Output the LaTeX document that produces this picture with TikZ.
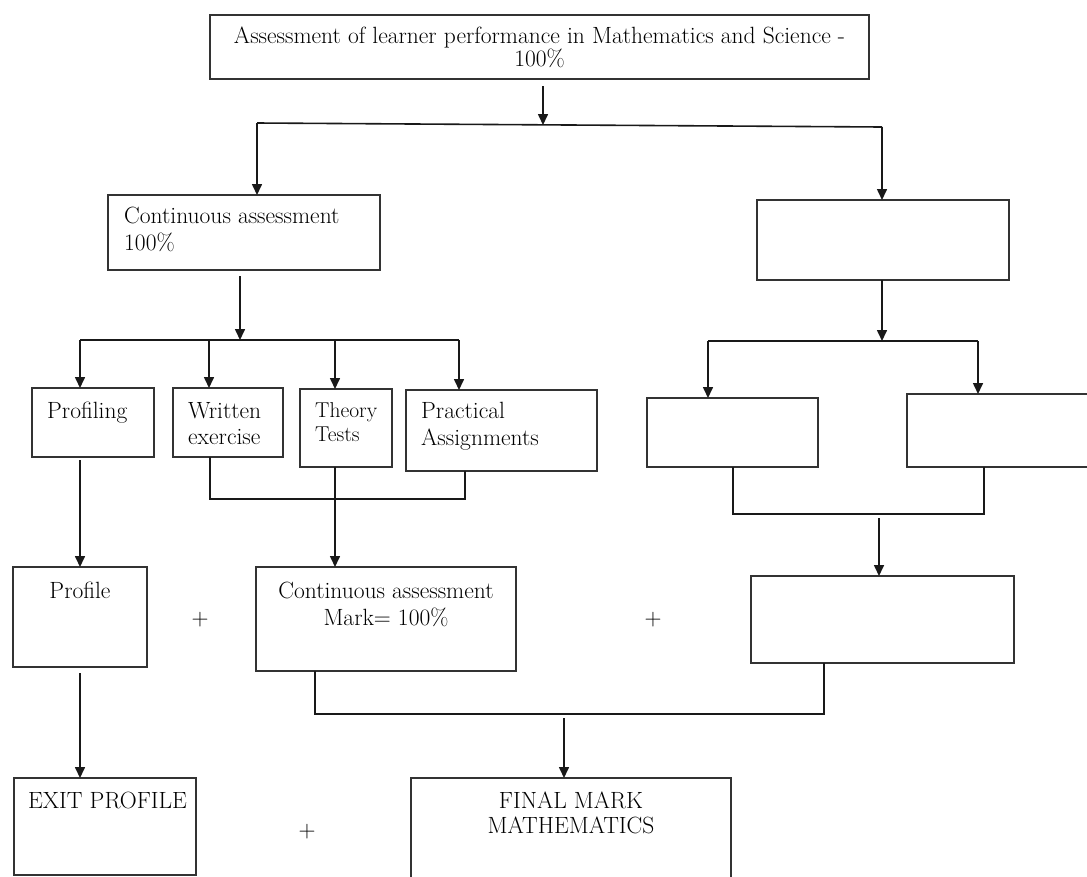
\documentclass[tikz,border=0pt]{standalone}
\usepackage{tikz}
\usetikzlibrary{arrows.meta}

\tikzset{
  box/.style={draw=black!80, line width=1.3pt, anchor=north west, inner sep=0pt, outer sep=0pt},
  txt/.style={anchor=north west, inner sep=0pt, align=left},
  ctxt/.style={anchor=north, inner sep=0pt, align=center},
  link/.style={line width=1.6pt, black!90},
  arr/.style={link, -{Triangle[width=10pt,length=11pt]}}
}

\begin{document}
\begin{tikzpicture}[x=1pt, y=-1pt, font=\fontsize{23.5}{27}\selectfont]
  \useasboundingbox (0,0) rectangle (1087,876);
  \fill[white] (0,0) rectangle (1087,876);
  \clip (0,0) rectangle (1087,876);

  % boxes
  \node[box, minimum width=659, minimum height=64] (top) at (210,15) {};
  \node[box, minimum width=272, minimum height=75] (ca) at (108,195) {};
  \node[box, minimum width=252, minimum height=80] (right1) at (757,200) {};
  \node[box, minimum width=122, minimum height=69] (profiling) at (32,388) {};
  \node[box, minimum width=110, minimum height=69] (written) at (173,388) {};
  \node[box, minimum width=92, minimum height=78] (theory) at (300,389) {};
  \node[box, minimum width=191, minimum height=81] (practical) at (406,390) {};
  \node[box, minimum width=171, minimum height=69] (sub1) at (647,398) {};
  \node[box, minimum width=200, minimum height=73] (sub2) at (907,394) {};
  \node[box, minimum width=134, minimum height=100] (profile) at (13,567) {};
  \node[box, minimum width=260, minimum height=104] (camark) at (256,567) {};
  \node[box, minimum width=263, minimum height=87] (right2) at (751,576) {};
  \node[box, minimum width=182, minimum height=97] (exit) at (14,778) {};
  \node[box, minimum width=320, minimum height=110] (final) at (411,778) {};

  % texts
  \node[ctxt] (toptxt) at ([yshift=-12pt]top.north) {Assessment of learner performance in Mathematics and Science -\\[-4pt] 100\%};
  \node[txt] (catxt) at (124,207) {Continuous assessment\\ 100\%};
  \node[txt] (profilingtxt) at (47,402) {Profiling};
  \node[txt] (writtentxt) at (188,402) {Written\\[-1pt] exercise};
  \node[txt, font=\fontsize{21.5}{27}\selectfont] (theorytxt) at (315,402) {Theory\\[-3pt] Tests};
  \node[txt] (practicaltxt) at (421,402) {Practical\\ Assignments};
  \node[ctxt] (profiletxt) at ([yshift=-15pt]profile.north) {Profile};
  \node[ctxt] (camarktxt) at ([yshift=-15pt]camark.north) {Continuous assessment\\ Mark= 100\%};
  \node[txt] (exittxt) at (28,792) {EXIT PROFILE};
  \node[ctxt] (finaltxt) at ([yshift=-14pt]final.north) {FINAL MARK\\[-2pt] MATHEMATICS};
  \node (plus1) at (200,620) {+};
  \node (plus2) at (653,620) {+};
  \node (plus3) at (307,832) {+};

  % top split
  \coordinate (b1l) at (257,123);
  \coordinate (b1r) at (882,127);
  \coordinate (b1m) at (543,125);
  \draw[arr] ([yshift=-7pt]top.south -| b1m) -- (b1m);
  \draw[link] (b1l) -- (b1r);
  \draw[arr] (b1l) -- (b1l |- ca.north);
  \draw[arr] (b1r) -- (b1r |- right1.north);

  % left split
  \coordinate (b2m) at (240,340);
  \draw[arr] ([yshift=-6pt]ca.south -| b2m) -- (b2m);
  \draw[link] (80,340) -- (459,340);
  \foreach \x/\n in {80/profiling, 209/written, 335/theory, 459/practical}
    \draw[arr] (\x,340) -- (\x,340 |- \n.north);

  % right split
  \coordinate (b3m) at (882,341);
  \draw[arr] (right1.south -| b3m) -- (b3m);
  \draw[link] (708,341) -- (978,341);
  \foreach \x/\n in {708/sub1, 978/sub2}
    \draw[arr] (\x,341) -- (\x,341 |- \n.north);

  % joins
  \coordinate (ja) at (210,499);
  \coordinate (jb) at (465,499);
  \coordinate (jt) at (335,499);
  \draw[link] (written.south -| ja) -- (ja) -- (jb) -- (practical.south -| jb);
  \draw[arr] (theory.south -| jt) -- (jt |- camark.north);
  \draw[arr] ([yshift=-3pt]profiling.south -| profile.north) -- (profile.north);

  \coordinate (jc) at (733,514);
  \coordinate (jd) at (984,514);
  \coordinate (jm) at (879,514);
  \draw[link] (sub1.south -| jc) -- (jc) -- (jd) -- (sub2.south -| jd);
  \draw[arr] ([yshift=-4pt]jm) -- (jm |- right2.north);

  \coordinate (je) at (315,714);
  \coordinate (jf) at (824,714);
  \coordinate (jn) at (564,714);
  \draw[link] (camark.south -| je) -- (je) -- (jf) -- (right2.south -| jf);
  \draw[arr] ([yshift=-4pt]jn) -- (jn |- final.north);
  \draw[arr] ([yshift=-6pt]profile.south) -- (profile.south |- exit.north);
\end{tikzpicture}
\end{document}
